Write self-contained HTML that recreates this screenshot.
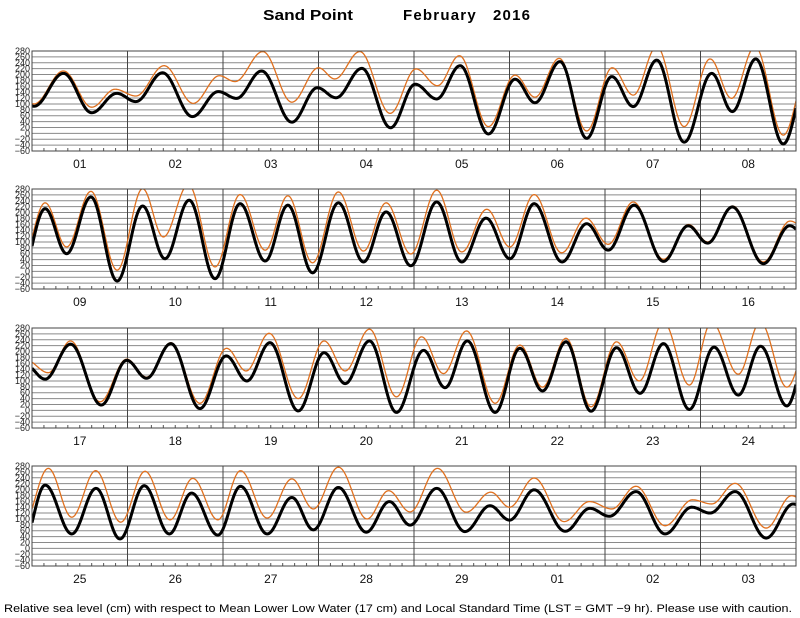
<!DOCTYPE html>
<html><head><meta charset="utf-8"><style>
html,body{margin:0;padding:0;background:#fff;}
svg{display:block;font-family:"Liberation Sans",sans-serif;}
</style></head><body>
<svg id="chart" width="800" height="618" viewBox="0 0 800 618" xmlns="http://www.w3.org/2000/svg">
<text x="263" y="20" font-size="15" font-weight="bold" textLength="90" lengthAdjust="spacingAndGlyphs">Sand Point</text>
<text x="403" y="20" font-size="15" font-weight="bold" textLength="127" lengthAdjust="spacing" xml:space="preserve">February   2016</text>
<text x="4" y="612" font-size="11.2" textLength="788" lengthAdjust="spacingAndGlyphs">Relative sea level (cm) with respect to Mean Lower Low Water (17 cm) and Local Standard Time (LST = GMT −9 hr). Please use with caution.</text>
<g id="panels"></g>
</svg>
<script>
// Day labels per panel
const dayLabels = ["01","02","03","04","05","06","07","08","09","10","11","12","13","14","15","16","17","18","19","20","21","22","23","24","25","26","27","28","29","01","02","03"];
const yTicks = [280,260,240,220,200,180,160,140,120,100,80,60,40,20,0,-20,-40,-60];
// Black (predicted) series: extrema times (hours since Feb 1 00:00) and heights (cm)
const predTimes = [-6,0.5,7.9,15.0,21.3,26.1,32.8,40.3,46.8,51.4,57.7,65.3,71.7,76.4,82.9,90.1,96.3,101.7,107.6,114.7,121.4,126.4,132.7,139.4,145.7,151.1,157.0,163.9,170.8,176.0,181.9,188.8,
195.3,200.7,206.8,213.4,219.8,225.4,231.5,238,244.3,250.6,256.3,262.5,269,275.3,281,287.2,293.7,300,306.1,312.1,318.2,325.2,331.4,336.8,343.3,350.7,356.9,361.8,368,375.8,382.4,
387.3,393.7,401.4,407.8,412.8,418.9,426.2,432.8,438,443.8,450.9,457.4,462.7,468.8,475.6,482.4,487.8,493.4,500.4,506.6,512.3,518.2,524.5,530.9,536.8,542.7,549.2,555.4,561.5,567.1,573.7,
579.3,586,592.1,598.1,604.2,610.5,616.1,622.7,628.4,635.1,641.3,646.7,653,660,665.8,671,677.7,684.8,691.1,696,702.2,710,716.2,721.1,727.8,735.1,741.8,746.4,752.7,760.5,767.3,774];
const predValues = [200,92,204,70,136,108,206,57,142,119,212,38,155,121,221,19,167,117,230,-2,184,104,244,-17,193,91,249,-30,204,74,253,-36,
213,60,253,-33,222,43,242,-25,230,35,225,-5,233,32,202,19,236,32,181,43,230,32,162,72,225,34,155,96,219,26,155,
106,225,18,170,109,227,6,185,100,230,-2,196,91,236,-7,204,77,236,-7,211,66,233,-3,213,58,227,3,215,52,218,15,
215,49,204,32,213,49,188,45,211,49,173,63,207,55,159,79,204,57,145,96,199,58,136,109,193,49,140,120,193,35,151,60];
// Orange (observed) series
const obsTimes = [-6,0.5,7.9,15.0,20.9,26.1,33.2,40.5,47.1,51.0,58.0,65.3,72.0,76.1,82.4,90.0,96.5,101.9,107.4,114.7,121.4,126.4,132.5,139.4,145.8,151.1,157.0,163.9,170.4,175.8,181.7,188.8,
195.3,200.7,206.8,213.4,219.8,225,231.3,238,244.3,250.6,256.3,262.5,269,275.3,281,287.2,293.7,300,306.3,312.1,318.2,325.1,331.2,336.8,343.1,350.7,357,361.8,368.1,375.8,382.5,
388.1,393.7,401.1,407.8,412.8,418.9,426.2,432.9,437.8,443.6,450.9,457.4,462.7,468.8,475.6,481.9,487.4,493.2,500.4,506.6,512.3,518.2,524.5,530.9,536.6,542.7,549.2,554.8,561.5,567,573.7,
580.1,586,592,598.3,604.4,610.7,616.4,622.7,628.4,635.1,641.3,646.7,653,660.2,665.6,671,677.9,685.1,691.3,696,702.2,709.7,716.1,721.7,727.8,735.1,742,746.8,752.7,760.5,766.9,774];
const obsValues = [205,100,212,89,150,127,230,102,196,176,278,106,223,185,278,68,219,162,264,23,198,123,255,8,223,130,295,23,253,119,295,-6,
233,83,272,4,281,117,295,15,261,72,257,29,270,69,233,59,276,66,211,83,261,63,181,92,236,41,159,100,222,32,171,
128,236,29,174,113,230,24,211,134,262,40,236,134,276,46,250,125,270,24,222,79,245,12,233,100,300,86,300,123,300,79,
272,106,264,89,262,97,238,97,264,103,236,134,276,100,196,124,272,123,191,140,239,91,159,134,211,77,165,151,221,69,179,100];

const X0 = 32, X1 = 796, HOURS = 192, PH = 100;
const panelTops = [51, 189, 328, 466];
const Y_MAX = 280, Y_MIN = -60;
const NS = "http://www.w3.org/2000/svg";
function xScale(h){ return X0 + (h / HOURS) * (X1 - X0); }
function yScale(top, v){ return top + (Y_MAX - v) / (Y_MAX - Y_MIN) * PH; }
function interp(ts, vs, t){
  if (t <= ts[0]) return vs[0];
  for (let i = 0; i < ts.length - 1; i++){
    if (t >= ts[i] && t <= ts[i+1]){
      const f = (t - ts[i]) / (ts[i+1] - ts[i]);
      return vs[i] + (vs[i+1] - vs[i]) * (1 - Math.cos(Math.PI * f)) / 2;
    }
  }
  return vs[vs.length - 1];
}
function mk(tag, attrs){ const e = document.createElementNS(NS, tag); for (const k in attrs) e.setAttribute(k, attrs[k]); return e; }

const root = document.getElementById("panels");
panelTops.forEach((top, p) => {
  const g = mk("g", {});
  
  
  root.appendChild(g);
  const cp = mk("clipPath", {id: "clip" + p});
  cp.appendChild(mk("rect", {x: X0, y: top, width: X1 - X0, height: PH}));
  g.appendChild(cp);
  // horizontal grid
  yTicks.forEach(v => {
    const y = yScale(top, v);
    const l = mk("line", {x1: X0, x2: X1, y1: y, y2: y, stroke: "#8a8a8a", "stroke-width": 1});
    
    
    g.appendChild(l);
    const t = mk("text", {x: 30, y: y + 3, "font-size": 9, "text-anchor": "end", fill: "#222"});
    
    
    t.textContent = v < 0 ? "\u2212" + (-v) : String(v);
    g.appendChild(t);
  });
  // 3-hour ticks
  for (let h = 3; h < HOURS; h += 3){
    const x = xScale(h);
    const tk = mk("line", {x1: x, x2: x, y1: top + PH, y2: top + PH - 3, stroke: "#555", "stroke-width": 1});
    
    
    g.appendChild(tk);
  }
  // day separators and labels
  for (let d = 0; d < 8; d++){
    if (d > 0){
      const x = xScale(d * 24);
      const dl = mk("line", {x1: x, x2: x, y1: top, y2: top + PH, stroke: "#444", "stroke-width": 1});
      
      
      g.appendChild(dl);
    }
    const lab = mk("text", {x: xScale(d * 24 + 12), y: top + PH + 17, "font-size": 12, "text-anchor": "middle", fill: "#111"});
    
    
    lab.textContent = dayLabels[p * 8 + d];
    g.appendChild(lab);
  }
  // series
  const off = p * HOURS;
  function path(ts, vs){
    let d = "";
    for (let h = 0; h <= HOURS; h += 0.25){
      const v = interp(ts, vs, off + h);
      d += (h === 0 ? "M" : "L") + xScale(h).toFixed(2) + "," + yScale(top, v).toFixed(2);
    }
    return d;
  }
  const obs = mk("path", {d: path(obsTimes, obsValues), fill: "none", stroke: "#e0701e", "stroke-width": 1.3, "clip-path": "url(#clip" + p + ")"});
  
  
  g.appendChild(obs);
  const pred = mk("path", {d: path(predTimes, predValues), fill: "none", stroke: "#000", "stroke-width": 3, "clip-path": "url(#clip" + p + ")"});
  
  
  g.appendChild(pred);
  const frame = mk("rect", {x: X0, y: top, width: X1 - X0, height: PH, fill: "none", stroke: "#444", "stroke-width": 1});
  
  
  g.appendChild(frame);
});
</script>
</body></html>
